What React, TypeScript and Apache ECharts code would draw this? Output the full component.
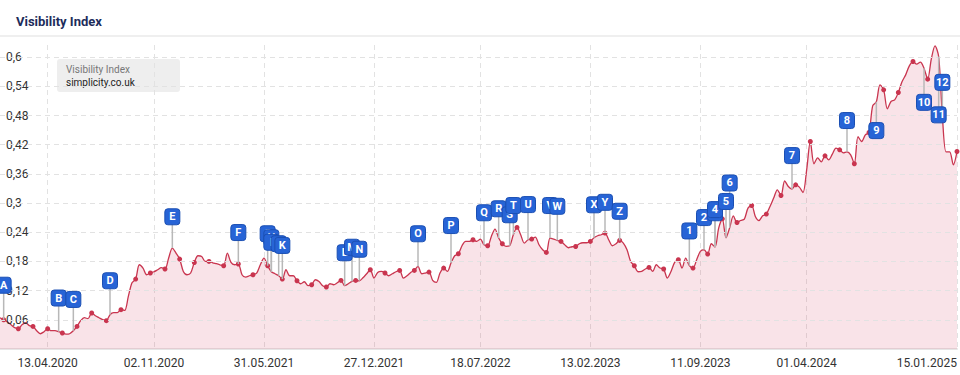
import React, { useEffect, useRef } from "react";
import * as echarts from "echarts";

const titleText = "Visibility Index";
const legendTitle = "Visibility Index";
const legendDomain = "simplicity.co.uk";

const values = [
  0.0643, 0.0602, 0.0561, 0.0499, 0.0438, 0.0417, 0.0499, 0.054, 0.0479, 0.0464,
  0.0376, 0.0314, 0.0355, 0.0417, 0.0376, 0.0376, 0.0355, 0.0329, 0.0304, 0.0314,
  0.0376, 0.0464, 0.0582, 0.0643, 0.0623, 0.074, 0.0684, 0.0643, 0.0602, 0.0582,
  0.0705, 0.0746, 0.0746, 0.0808, 0.0793, 0.1081, 0.1362, 0.1438, 0.1732, 0.1664,
  0.1527, 0.1562, 0.1588, 0.1629, 0.1671, 0.1644, 0.187, 0.2075, 0.1973, 0.1849,
  0.1595, 0.1527, 0.1562, 0.1779, 0.1917, 0.1903, 0.18, 0.18, 0.1773, 0.1753,
  0.1732, 0.1712, 0.1973, 0.1779, 0.1732, 0.1747, 0.1527, 0.1479, 0.1506, 0.1527,
  0.1562, 0.1732, 0.187, 0.1712, 0.1588, 0.1547, 0.1506, 0.1438, 0.1629, 0.1506,
  0.1506, 0.1403, 0.1342, 0.1383, 0.1301, 0.1321, 0.1424, 0.1389, 0.1301, 0.1274,
  0.1342, 0.1321, 0.1362, 0.141, 0.1301, 0.1342, 0.1389, 0.141, 0.1403, 0.1465,
  0.1547, 0.1629, 0.1459, 0.1574, 0.1595, 0.1562, 0.1506, 0.1547, 0.1588, 0.1615,
  0.1459, 0.1506, 0.1574, 0.1615, 0.1697, 0.1547, 0.1562, 0.1582, 0.141, 0.1368,
  0.1562, 0.1664, 0.1595, 0.1767, 0.1917, 0.1958, 0.2123, 0.2211, 0.2211, 0.2246,
  0.2211, 0.226, 0.2143, 0.2123, 0.2314, 0.2466, 0.2281, 0.2164, 0.2108, 0.2123,
  0.2349, 0.2499, 0.2349, 0.2178, 0.2246, 0.226, 0.2301, 0.2143, 0.204, 0.1985,
  0.2281, 0.226, 0.2232, 0.2211, 0.2143, 0.2082, 0.2102, 0.2108, 0.2164, 0.2184,
  0.2184, 0.2211, 0.2287, 0.2328, 0.2349, 0.2384, 0.2246, 0.2123, 0.2164, 0.2232,
  0.2178, 0.204, 0.18, 0.1712, 0.1588, 0.1595, 0.1644, 0.1677, 0.1595, 0.1732,
  0.1664, 0.1644, 0.1459, 0.1595, 0.1779, 0.1835, 0.1664, 0.187, 0.1712, 0.1664,
  0.1835, 0.2005, 0.204, 0.1952, 0.2164, 0.2096, 0.2486, 0.2677, 0.2287, 0.2492,
  0.2739, 0.2601, 0.2642, 0.2671, 0.2897, 0.2951, 0.2725, 0.2642, 0.2739, 0.2774,
  0.293, 0.3103, 0.3273, 0.3156, 0.3458, 0.3341, 0.3288, 0.3376, 0.3329, 0.3218,
  0.3684, 0.4266, 0.3808, 0.3931, 0.3849, 0.3972, 0.389, 0.4007, 0.413, 0.4095,
  0.4034, 0.4054, 0.3992, 0.3808, 0.4368, 0.4266, 0.4403, 0.4451, 0.4999, 0.5082,
  0.5431, 0.5328, 0.4938, 0.5088, 0.5123, 0.5273, 0.5493, 0.5636, 0.5821, 0.591,
  0.5856, 0.5897, 0.5774, 0.5548, 0.5965, 0.6232, 0.6012, 0.4814, 0.4054, 0.4054,
  0.3787, 0.406,
];

const xTickIndex = [13, 42, 72, 102, 131, 161, 191, 220, 261];
const xTickLabels = [
  "13.04.2020", "02.11.2020", "31.05.2021", "27.12.2021", "18.07.2022",
  "13.02.2023", "11.09.2023", "01.04.2024", "15.01.2025",
];

const yTicks = [0.06, 0.12, 0.18, 0.24, 0.3, 0.36, 0.42, 0.48, 0.54, 0.6];
const yTickLabels = ["0,06", "0,12", "0,18", "0,24", "0,3", "0,36", "0,42", "0,48", "0,54", "0,6"];

const flagLabels = [
  "A", "B", "C", "D", "E", "F", "G", "H", "I", "J", "K", "L", "M", "N", "O", "P", "Q",
  "R", "S", "T", "U", "V", "W", "X", "Y", "Z",
  "1", "2", "3", "4", "5", "6", "7", "8", "9", "10", "11", "12",
];
const flagIndex = [
  1, 16, 20, 30, 47, 65, 73, 74, 74, 76, 77, 94, 96, 98, 114, 123, 132,
  136, 139, 140, 144, 150, 152, 162, 165, 169,
  188, 192, 195, 195, 198, 199, 216, 231, 239, 252, 256, 257,
];
const flagLevel = [
  0.1311, 0.1048, 0.1019, 0.1403, 0.2718, 0.2394, 0.2369, 0.2287, 0.2195, 0.2164, 0.2129,
  0.1979, 0.2092, 0.2051, 0.2369, 0.2538, 0.2801, 0.2883, 0.276, 0.2949, 0.2969, 0.2949,
  0.2934, 0.2965, 0.3016, 0.2832,
  0.2427, 0.2702, 0.2801, 0.2866, 0.3033, 0.3413, 0.3976, 0.4697, 0.449, 0.5071, 0.4814, 0.5482,
];

export default function App() {
  const ref = useRef<HTMLDivElement>(null);

  useEffect(() => {
    if (!ref.current) return;
    const chart = echarts.init(ref.current, null, { renderer: "svg" });
    const categories = values.map((_, i) => String(i));
    const tickSet = new Set(xTickIndex);
    const lineColor = "#c9354f";

    const option: any = {
      animation: false,
      title: {
        text: titleText,
        left: 11,
        top: 10,
        textStyle: { fontFamily: "Roboto", fontSize: 13, fontWeight: "bold", color: "#1d2c5b" },
      },
      grid: { left: 0, right: 3, top: 45, bottom: 26, containLabel: false, outerBoundsMode: "none" },
      graphic: [
        {
          type: "rect",
          left: 0,
          top: 35,
          silent: true,
          shape: { width: 960, height: 2 },
          style: { fill: "#efefef" },
        },
        {
          type: "group",
          left: 57,
          top: 59,
          z: 10,
          silent: true,
          children: [
            { type: "rect", shape: { x: 0, y: 0, width: 123, height: 33, r: 3 }, style: { fill: "#eeeeee" } },
            {
              type: "text",
              x: 9,
              y: 10,
              style: { text: legendTitle, fill: "#777777", fontSize: 10, fontFamily: "Roboto", verticalAlign: "middle" },
            },
            {
              type: "text",
              x: 9,
              y: 23,
              style: { text: legendDomain, fill: "#222222", fontSize: 10, fontFamily: "Roboto", verticalAlign: "middle" },
            },
          ],
        },
      ],
      xAxis: {
        type: "category",
        data: categories,
        boundaryGap: false,
        axisLine: { show: true, lineStyle: { color: "#e6e6e6", width: 2 } },
        axisTick: { show: false },
        axisLabel: {
          interval: (idx: number) => tickSet.has(idx),
          formatter: (value: string) => {
            const k = xTickIndex.indexOf(Number(value));
            return k >= 0 ? xTickLabels[k] : "";
          },
          color: "#333333",
          fontSize: 12,
          fontFamily: "Roboto",
          margin: 8,
          alignMaxLabel: "right",
        },
        splitLine: {
          show: true,
          interval: (idx: number) => tickSet.has(idx),
          lineStyle: { type: [5, 4], color: "#e2e2e2", width: 1 },
        },
      },
      yAxis: {
        type: "value",
        min: 0,
        max: 0.625,
        interval: 0.06,
        z: 4,
        axisLine: { show: false },
        axisTick: { show: false },
        splitLine: { show: false },
        axisLabel: {
          inside: true,
          margin: 6,
          color: "#333333",
          fontSize: 12,
          fontFamily: "Roboto",
          formatter: (v: number) => {
            const k = yTicks.findIndex((t) => Math.abs(t - v) < 1e-6);
            return k >= 0 ? yTickLabels[k] : "";
          },
        },
      },
      series: [
        {
          type: "line",
          data: values,
          smooth: 0.3,
          symbol: "circle",
          showAllSymbol: true,
          symbolSize: (_v: any, p: any) => (p.dataIndex % 4 === 1 ? 5 : 0),
          lineStyle: { color: lineColor, width: 1.3 },
          itemStyle: { color: lineColor },
          areaStyle: { color: "rgba(210,60,90,0.2)" },
          emphasis: { disabled: true },
          z: 2,
          markLine: {
            silent: true,
            symbol: ["none", "none"],
            label: { show: false },
            emphasis: { disabled: true },
            lineStyle: { type: [5, 4], color: "#e2e2e2", width: 1 },
            data: yTicks.map((v) => ({ yAxis: v })),
          },
        },
        {
          type: "custom",
          z: 5,
          data: flagIndex.map((idx, k) => [idx, values[idx], flagLevel[k]]),
          encode: { x: 0, y: 1 },
          renderItem: (params: any, api: any) => {
            const k = params.dataIndex;
            const p = api.coord([api.value(0), api.value(1)]);
            const f = api.coord([api.value(0), api.value(2)]);
            return {
              type: "group",
              children: [
                {
                  type: "line",
                  z2: 1,
                  shape: { x1: p[0], y1: p[1], x2: p[0], y2: f[1] },
                  style: { stroke: "#b8b8b8", lineWidth: 1.5 },
                },
                {
                  type: "rect",
                  z2: 100 + 2 * k,
                  shape: { x: p[0] - 7.5, y: f[1] - 8, width: 15, height: 16, r: 3 },
                  style: { fill: "#2764d6", stroke: "#1b4fb3", lineWidth: 1 },
                },
                {
                  type: "text",
                  z2: 101 + 2 * k,
                  x: p[0],
                  y: f[1],
                  style: {
                    text: flagLabels[k],
                    fill: "#ffffff",
                    fontSize: 11,
                    fontWeight: "bold",
                    fontFamily: "Roboto",
                    align: "center",
                    verticalAlign: "middle",
                  },
                },
              ],
            };
          },
        },
      ],
    };

    chart.setOption(option);
    return () => chart.dispose();
  }, []);

  return (
    <div
      ref={ref}
      style={{ position: "absolute", left: 0, top: 0, width: 960, height: 375 }}
    />
  );
}
